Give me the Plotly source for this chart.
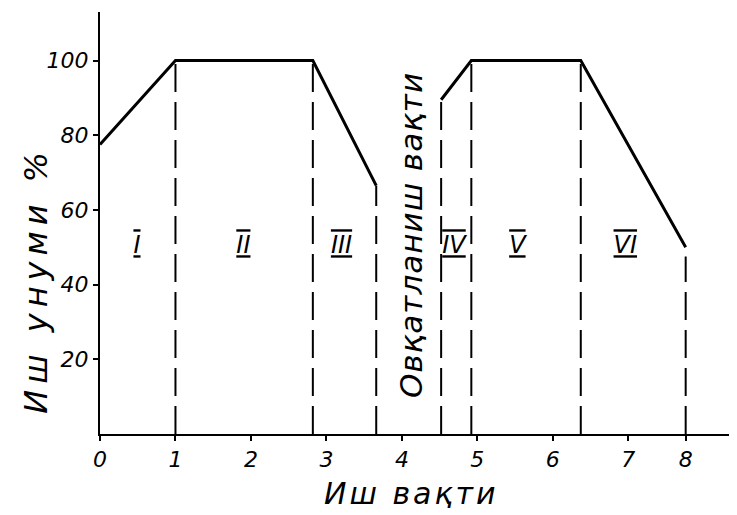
import plotly.graph_objects as go

# Work capacity curve, first half of the shift (before the meal break)
x_first = [0, 1, 2.82, 3.66]
y_first = [77.5, 100, 100, 66.5]
# Work capacity curve, second half of the shift (after the meal break)
x_second = [4.52, 4.92, 6.37, 7.76]
y_second = [89.5, 100, 100, 50]

# Dashed phase boundaries
bound_x = [1, 2.82, 3.66, 4.52, 4.92, 6.37, 7.76]
bound_top = [100, 100, 66.5, 89.5, 100, 100, 47.5]

# Phase labels
phase_names = ["I", "II", "III", "IV", "V", "VI"]
phase_x = [0.49, 1.9, 3.2, 4.69, 5.53, 6.96]
phase_y = [50, 50, 50, 50, 50, 50]

x_tickvals = [0, 1, 2, 3, 4, 5, 6, 7, 7.76]
x_ticktext = ["0", "1", "2", "3", "4", "5", "6", "7", "8"]
y_tickvals = [20, 40, 60, 80, 100]

y_title = "Иш унуми %"
x_title = "Иш вақти"
break_label = "Овқатланиш вақти"

FONT = "DejaVu Sans"


def spaced(text, px):
    return '<span style="letter-spacing:%dpx">%s</span>' % (px, text)


fig = go.Figure()

for bx, bt in zip(bound_x, bound_top):
    fig.add_trace(go.Scatter(
        x=[bx, bx], y=[0, bt], mode="lines",
        line=dict(color="black", width=2, dash="28px,10px"),
        showlegend=False, hoverinfo="skip"))

fig.add_trace(go.Scatter(x=x_first, y=y_first, mode="lines",
                         line=dict(color="black", width=3),
                         showlegend=False, cliponaxis=False))
fig.add_trace(go.Scatter(x=x_second, y=y_second, mode="lines",
                         line=dict(color="black", width=3),
                         showlegend=False, cliponaxis=False))

fig.add_trace(go.Scatter(
    x=phase_x, y=phase_y, mode="text", text=phase_names,
    textfont=dict(family=FONT, size=24, color="black", style="italic",
                  lineposition="over+under"),
    showlegend=False, hoverinfo="skip"))

fig.add_annotation(x=-0.1, y=41.4, xref="paper", yref="y",
                   text=spaced(y_title, 6),
                   xanchor="center", yanchor="middle",
                   textangle=-90, showarrow=False,
                   font=dict(family=FONT, size=32, color="black", style="italic"))
fig.add_annotation(x=4.13, y=-0.142, xref="x", yref="paper",
                   text=spaced(x_title, 3),
                   xanchor="center", yanchor="middle",
                   showarrow=False,
                   font=dict(family=FONT, size=30, color="black", style="italic"))
fig.add_annotation(x=4.13, y=53.2, xref="x", yref="y",
                   text=spaced(break_label, 1),
                   xanchor="center", yanchor="middle",
                   textangle=-90, showarrow=False,
                   font=dict(family=FONT, size=31, color="black", style="italic"))

fig.update_layout(
    width=737, height=515,
    margin=dict(l=92, r=8, t=4, b=89),
    paper_bgcolor="white", plot_bgcolor="white",
    xaxis=dict(range=[0, 8.44], showgrid=False, zeroline=False,
               showline=True, linecolor="black", linewidth=2,
               ticks="outside", ticklen=5, tickcolor="black", tickwidth=2,
               tickvals=x_tickvals, ticktext=x_ticktext,
               tickfont=dict(family=FONT, size=22, color="black", style="italic")),
    yaxis=dict(range=[0, 113], showgrid=False, zeroline=False,
               showline=True, linecolor="black", linewidth=2,
               ticks="outside", ticklen=5, tickcolor="black", tickwidth=2,
               tickvals=y_tickvals,
               tickfont=dict(family=FONT, size=22, color="black", style="italic")),
)

fig.write_html("out.html")
